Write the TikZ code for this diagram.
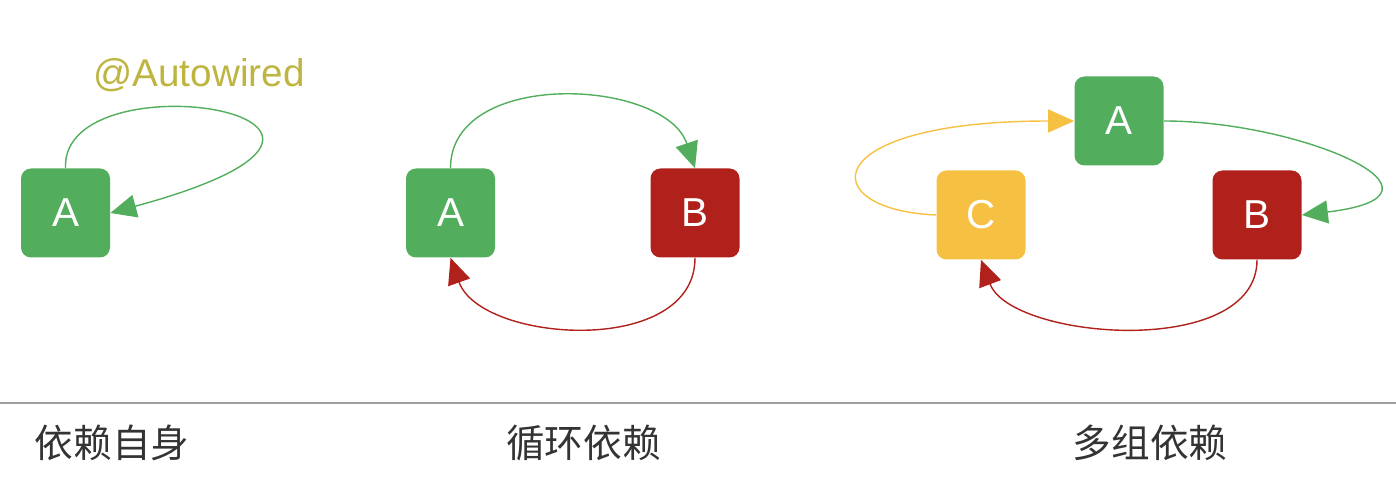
\documentclass[tikz,border=0pt]{standalone}
\usepackage{fontspec}
\setmainfont{Liberation Sans}
\newfontfamily\cjk{Noto Sans CJK SC}
\usetikzlibrary{arrows.meta}

\definecolor{beangreen}{HTML}{52AE5C}
\definecolor{beanred}{HTML}{B1211B}
\definecolor{beanyellow}{HTML}{F6C142}
\definecolor{noteolive}{HTML}{BDB540}
\definecolor{captiongray}{HTML}{333333}

\begin{document}
\begin{tikzpicture}
\tikzstyle{bean}=[rectangle, rounded corners=0.2cm, minimum width=1.78cm, minimum height=1.78cm, text=white, font=\fontsize{23}{27}\selectfont]
\tikzstyle{dep}=[line width=0.8pt, -{Triangle[length=0.52cm,width=0.46cm]}]
\tikzstyle{caption}=[text=captiongray, font=\cjk\fontsize{22}{26}\selectfont]

\useasboundingbox (0,0) rectangle (27.92,-10);

% self dependency
\node[bean, fill=beangreen] (sA) at (1.31,-4.26) {A};
\node[text=noteolive, font=\fontsize{22}{26}\selectfont] (note) at (3.98,-1.5) {@Autowired};
\draw[dep, beangreen] (sA.north) .. controls +(-0.1,2.3) and +(7.0,1.9) .. (sA.east);

% circular dependency
\node[bean, fill=beangreen] (cA) at (9.01,-4.26) {A};
\node[bean, fill=beanred] (cB) at (13.9,-4.26) {B};
\draw[dep, beangreen] (cA.north) .. controls +(0,2.0) and +(-0.6,1.8) .. (cB.north);
\draw[dep, beanred] (cB.south) .. controls +(0,-2.0) and +(0.6,-1.7) .. (cA.south);

% multi dependency
\node[bean, fill=beangreen] (mA) at (22.38,-2.42) {A};
\node[bean, fill=beanyellow] (mC) at (19.62,-4.3) {C};
\node[bean, fill=beanred] (mB) at (25.14,-4.3) {B};
\draw[dep, beangreen] (mA.east) .. controls +(2.74,0) and +(3.4,0.4) .. (mB.east);
\draw[dep, beanred] (mB.south) .. controls +(0,-2.0) and +(0.6,-1.6) .. (mC.south);
\draw[dep, beanyellow] (mC.west) .. controls +(-2.44,0.1) and +(-5.2,0) .. (mA.west);

% captions
\coordinate (lineL) at (0,-8.06);
\coordinate (lineR) at (27.92,-8.06);
\draw[line width=1.1pt, color=black!38] (lineL) -- (lineR);
\node[caption] (t1) at (2.24,-8.86) {依赖自身};
\node[caption] (t2) at (11.67,-8.86) {循环依赖};
\node[caption] (t3) at (23.0,-8.86) {多组依赖};
\end{tikzpicture}
\end{document}
